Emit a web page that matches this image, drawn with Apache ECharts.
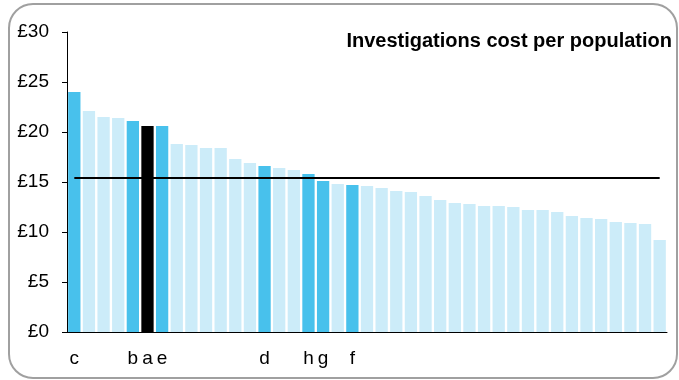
<!DOCTYPE html>
<html>
<head>
<meta charset="utf-8">
<script src="https://cdn.jsdelivr.net/npm/echarts@6/dist/echarts.min.js"></script>
<style>
html,body{margin:0;padding:0;background:#fff;}
#chart{width:679px;height:380px;}
</style>
</head>
<body>
<div id="chart"></div>
<script>
// ---- data ----
const categories = ['c','','','','b','a','e','','','','','','','d','','','h','g','','f',
  '','','','','','','','','','','','','','','','','','','','',''];
const values = [24.0,22.1,21.5,21.4,21.1,20.6,20.6,18.8,18.7,18.4,18.4,17.3,16.9,16.6,16.4,16.2,15.8,15.1,14.8,14.7,
  14.6,14.4,14.1,14.0,13.6,13.2,12.9,12.8,12.6,12.6,12.5,12.2,12.2,12.0,11.6,11.4,11.3,11.0,10.9,10.8,9.2];
const highlighted = ['c','b','e','d','h','g','f'];
const selected = ['a'];
const benchmark = 15.4;
const yTicks = [0,5,10,15,20,25,30];
const titleText = 'Investigations cost per population';

const FONT = '"Liberation Sans", Arial, sans-serif';
const COL_HI = '#48C1EC', COL_LO = '#CCECF9', COL_SEL = '#000000';

const barData = values.map((v,i)=>{
  const c = categories[i];
  let color = COL_LO;
  if (selected.includes(c)) color = COL_SEL;
  else if (highlighted.includes(c)) color = COL_HI;
  return {value:v, itemStyle:{color:color}};
});

const chart = echarts.init(document.getElementById('chart'), null, {renderer:'canvas'});
chart.setOption({
  animation:false,
  backgroundColor:'#fff',
  title:{
    text:titleText, right:2, top:26,
    textStyle:{fontFamily:FONT, fontSize:20, fontWeight:'bold', color:'#000'}
  },
  graphic:[{
    type:'rect', silent:true, z:-1,
    shape:{x:9, y:4, width:668, height:374, r:24},
    style:{fill:'none', stroke:'#A0A0A0', lineWidth:2}
  }],
  grid:{left:67, right:12, top:32, bottom:48, containLabel:false},
  xAxis:{
    type:'category', data:categories,
    axisLine:{show:true, lineStyle:{color:'#000', width:1}},
    axisTick:{show:false},
    axisLabel:{interval:0, fontFamily:FONT, fontSize:19, color:'#000', margin:17}
  },
  yAxis:{
    type:'value', min:yTicks[0], max:yTicks[yTicks.length-1], interval:yTicks[1]-yTicks[0],
    splitLine:{show:false},
    axisLine:{show:true, lineStyle:{color:'#000', width:1}},
    axisTick:{show:true, length:5, lineStyle:{color:'#000'}},
    axisLabel:{fontFamily:FONT, fontSize:19, color:'#000', margin:18, formatter:'£{value}'}
  },
  series:[{
    type:'bar', data:barData, barCategoryGap:'16%',
    markLine:{
      silent:true, symbol:'none', label:{show:false},
      lineStyle:{color:'#000', width:2, type:'solid'},
      data:[[{coord:[0,benchmark]},{coord:[values.length-1,benchmark]}]]
    }
  }]
});
</script>
</body>
</html>
